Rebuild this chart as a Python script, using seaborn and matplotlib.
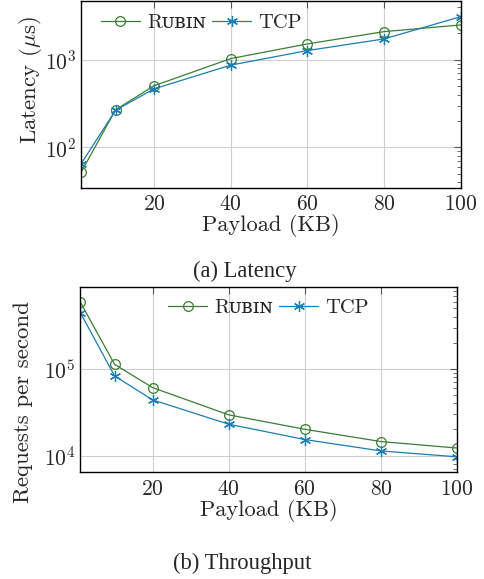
import numpy as np
import pandas as pd
import matplotlib
matplotlib.use("Agg")
import matplotlib.pyplot as plt
import matplotlib.ticker as mticker
import seaborn as sns

# data
payload_kb = [1, 10, 20, 40, 60, 80, 100]
latency_rubin = [52, 268, 503, 1026, 1507, 2080, 2477]
latency_tcp = [65, 265, 464, 864, 1266, 1718, 3084]
rps_rubin = [590000, 113000, 60800, 29500, 20100, 14500, 12200]
rps_tcp = [446000, 83000, 43900, 23000, 15300, 11300, 9660]
series_names = ["Rubin", "TCP"]
legend_labels = ["R\u1d1c\u0299\u026a\u0274", "TCP"]
x_ticks = [20, 40, 60, 80, 100]

GREEN = "#3b7d34"
BLUE = "#1a7db3"

sns.set_style("white")
plt.rcParams["font.family"] = ["cmr10", "DejaVu Serif"]
plt.rcParams["mathtext.fontset"] = "cm"
plt.rcParams["axes.formatter.use_mathtext"] = True
plt.rcParams["font.size"] = 15


def long_df(a, b):
    return pd.DataFrame({
        "payload": payload_kb * 2,
        "value": list(a) + list(b),
        "proto": [series_names[0]] * len(a) + [series_names[1]] * len(b),
    })


def draw(ax, df, ylabel, label_xy, legend_loc, legend_anchor):
    sns.lineplot(data=df, x="payload", y="value", hue="proto",
                 hue_order=series_names,
                 palette={"Rubin": GREEN, "TCP": BLUE},
                 marker="o", linewidth=0.9, markersize=7, legend=False, ax=ax)
    for ln in ax.lines:
        c = ln.get_color()
        ln.set_markeredgecolor(c)
        ln.set_markerfacecolor("none")
        ln.set_markeredgewidth(0.9)
    # pgfplots style asterisk for TCP
    ax.lines[1].set_marker((6, 2, 0))
    ax.lines[1].set_markersize(8)

    ax.set_yscale("log")
    lo, hi = np.log10(df["value"].min()), np.log10(df["value"].max())
    pad = 0.1 * (hi - lo)
    ax.set_ylim(10 ** (lo - pad), 10 ** (hi + pad))
    ax.set_xlim(min(payload_kb), max(payload_kb))
    ax.set_xticks(x_ticks)
    ax.yaxis.set_major_locator(mticker.LogLocator(base=10))
    ax.yaxis.set_minor_locator(mticker.LogLocator(base=10, subs=np.arange(2, 10)))
    ax.yaxis.set_minor_formatter(mticker.NullFormatter())

    ax.grid(True, which="major", color="#cfcfcf", linewidth=0.8)
    ax.tick_params(which="both", direction="in", top=True, right=True,
                   color="#555555", labelsize=15.5)
    ax.tick_params(which="major", length=5, width=0.8)
    ax.tick_params(which="minor", length=3, width=0.6)
    ax.tick_params(axis="x", pad=5)
    for s in ax.spines.values():
        s.set_color("black")
        s.set_linewidth(1.0)

    ax.set_xlabel("Payload (KB)", fontsize=16.2, labelpad=0)
    ax.set_ylabel(ylabel, fontsize=16.5)
    ax.yaxis.set_label_coords(*label_xy)
    leg = ax.legend(handles=ax.lines[:2], labels=legend_labels, loc=legend_loc,
                    bbox_to_anchor=legend_anchor, ncol=2, frameon=False,
                    handlelength=1.9, handletextpad=0.35, columnspacing=0.3,
                    borderaxespad=0.2, prop={"family": ["cmr10", "DejaVu Serif"], "size": 14.8})
    return leg


fig = plt.figure(figsize=(4.84, 5.79), dpi=100)
ax1 = fig.add_axes([0.1674, 0.6753, 0.7851, 0.3230])
ax2 = fig.add_axes([0.1660, 0.1843, 0.7782, 0.3205])

draw(ax1, long_df(latency_rubin, latency_tcp), r"Latency ($\mu$s)", (-0.098, 0.578),
     "upper left", (0.02, 1.0))
draw(ax2, long_df(rps_rubin, rps_tcp), "Requests per second", (-0.126, 0.379),
     "upper center", (0.5, 1.0))

fig.text(0.506, 0.531, "(a) Latency", ha="center", va="center",
         family="Liberation Serif", fontsize=16.3)
fig.text(0.501, 0.027, "(b) Throughput", ha="center", va="center",
         family="Liberation Serif", fontsize=16.3)

fig.savefig("out.png", dpi=100)
